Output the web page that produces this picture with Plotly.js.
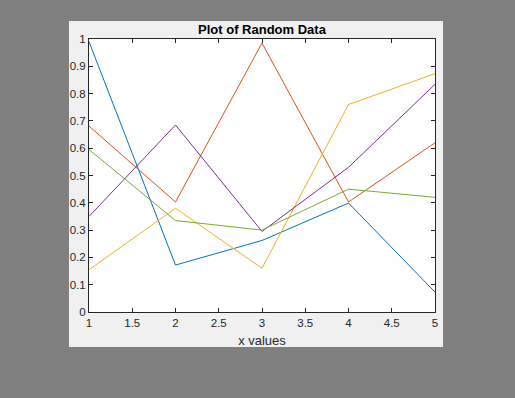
<!DOCTYPE html>
<html><head><meta charset="utf-8">
<script src="https://cdn.plot.ly/plotly-3.0.1.min.js"></script>
<style>html,body{margin:0;padding:0;background:#808080;}#plot{width:515px;height:398px;}</style>
</head><body><div id="plot"></div>
<script>
const xValues = [1, 2, 3, 4, 5];
const series1 = [0.99, 0.172, 0.262, 0.399, 0.073];
const series2 = [0.681, 0.403, 0.985, 0.403, 0.62];
const series3 = [0.155, 0.38, 0.16, 0.76, 0.873];
const series4 = [0.35, 0.685, 0.295, 0.53, 0.834];
const series5 = [0.595, 0.335, 0.30, 0.45, 0.42];
const seriesList = [series1, series2, series3, series4, series5];
const colors = ['#0072BD', '#D95319', '#EDB120', '#7E2F8E', '#77AC30'];
const xTicks = [1, 1.5, 2, 2.5, 3, 3.5, 4, 4.5, 5];
const yTicks = [0, 0.1, 0.2, 0.3, 0.4, 0.5, 0.6, 0.7, 0.8, 0.9, 1];

const traces = seriesList.map((s, i) => ({
  x: xValues, y: s, type: 'scatter', mode: 'lines',
  line: {color: colors[i], width: 1}, showlegend: false, hoverinfo: 'skip'
}));

const W = 515, H = 398, L = 89, R = 435, T = 39, B = 312;
const pw = R - L, ph = B - T;
const fx = px => (px - L) / pw;
const fy = py => (B - py) / ph;
const FONT = 'Liberation Sans, Arial, sans-serif';

const axisCommon = {
  showgrid: false, zeroline: false, showline: true, linecolor: '#262626', linewidth: 1,
  mirror: 'ticks', ticks: 'inside', ticklen: 4, tickcolor: '#262626', tickwidth: 1,
  tickfont: {family: FONT, size: 11.5, color: '#262626'},
  fixedrange: true
};

const layout = {
  width: W, height: H,
  margin: {l: L, r: W - R, t: T, b: H - B, pad: 0},
  paper_bgcolor: '#808080', plot_bgcolor: '#ffffff',
  title: {text: '<b>Plot of Random Data</b>', x: 0.5, xref: 'paper', y: 1 - 29 / H, yref: 'container', yanchor: 'middle',
    font: {family: FONT, size: 13, color: '#000000'}},
  xaxis: Object.assign({}, axisCommon, {range: [1, 5], tickvals: xTicks, ticktext: xTicks.map(String),
    title: {text: 'x values', standoff: 8, font: {family: FONT, size: 13, color: '#262626'}}}),
  yaxis: Object.assign({}, axisCommon, {range: [0, 1], tickvals: yTicks, ticktext: yTicks.map(String)}),
  shapes: [
    {type: 'rect', xref: 'paper', yref: 'paper', layer: 'below',
      x0: fx(69), x1: fx(443), y0: fy(347), y1: fy(21),
      fillcolor: '#f0f0f0', line: {width: 0}},
    {type: 'rect', xref: 'paper', yref: 'paper', layer: 'below',
      x0: 0, x1: 1, y0: 0, y1: 1,
      fillcolor: '#ffffff', line: {width: 0}}
  ]
};

Plotly.newPlot('plot', traces, layout, {staticPlot: true, displayModeBar: false});
</script></body></html>
